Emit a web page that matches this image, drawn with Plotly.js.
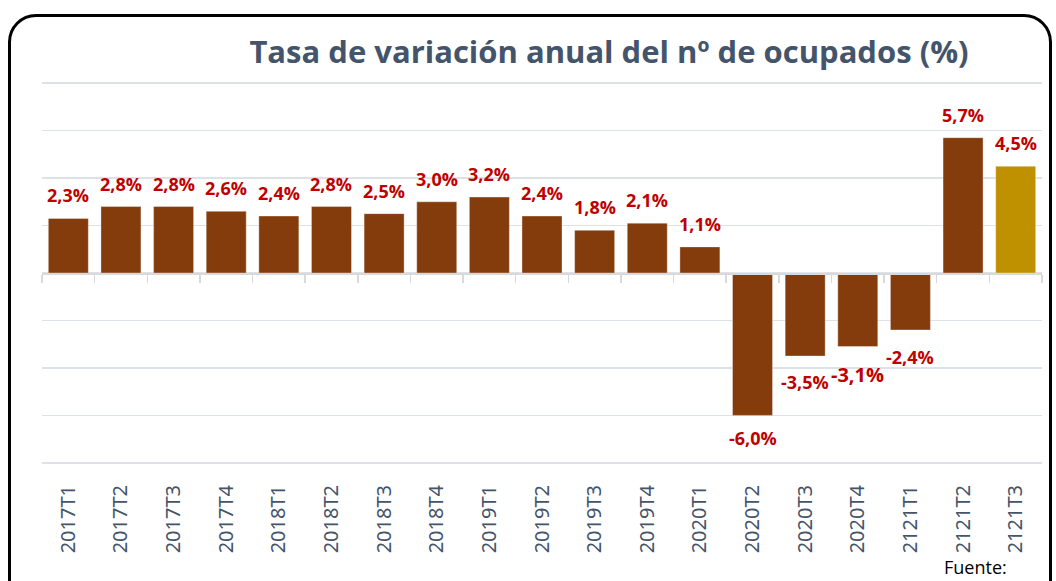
<!DOCTYPE html>
<html>
<head>
<meta charset="utf-8">
<script src="https://cdn.plot.ly/plotly-3.0.1.min.js"></script>
<style>
  html, body { margin:0; padding:0; background:#fff; overflow:hidden; }
  #wrap { position:relative; width:1056px; height:581px; }
  #frame { position:absolute; left:8px; top:14px; width:1044px; height:620px; border:3px solid #000; border-radius:28px; box-sizing:border-box; pointer-events:none; z-index:2; }
  #chart { position:absolute; left:0; top:0; width:1056px; height:581px; }
</style>
</head>
<body>
<div id="wrap">
  <div id="chart"></div>
  <div id="frame"></div>
</div>
<script>
const categories = ["2017T1","2017T2","2017T3","2017T4","2018T1","2018T2","2018T3","2018T4","2019T1","2019T2","2019T3","2019T4","2020T1","2020T2","2020T3","2020T4","2121T1","2121T2","2121T3"];
const values = [2.3, 2.8, 2.8, 2.6, 2.4, 2.8, 2.5, 3.0, 3.2, 2.4, 1.8, 2.1, 1.1, -6.0, -3.5, -3.1, -2.4, 5.7, 4.5];
const labels = ["2,3%","2,8%","2,8%","2,6%","2,4%","2,8%","2,5%","3,0%","3,2%","2,4%","1,8%","2,1%","1,1%","-6,0%","-3,5%","-3,1%","-2,4%","5,7%","4,5%"];
const titleText = "Tasa de variación anual del nº de ocupados (%)";
const sourceText = "Fuente:";

const barColors = categories.map((c, i) => i === categories.length - 1 ? "#BF9000" : "#843C0C");

const trace = {
  type: "bar",
  x: categories,
  y: values,
  marker: { color: barColors, line: { color: "rgba(255,255,255,0.35)", width: 1 } },
  hoverinfo: "skip"
};

// invisible trace on overlay axis for boundary ticks at zero line
const tickTrace = {
  type: "bar",
  x: categories,
  y: values.map(() => 0),
  xaxis: "x2",
  yaxis: "y",
  marker: { color: "rgba(0,0,0,0)" },
  hoverinfo: "skip",
  showlegend: false
};

// label style tweaks (Excel-like placement of a few labels)
const labelYExtra = { "2020T3": 3, "2020T4": 5, "2121T1": 4 };
const labelSize = { "2020T4": 20 };

const dataLabels = categories.map((c, i) => ({
  x: c,
  y: values[i],
  xref: "x",
  yref: "y",
  text: "<b>" + labels[i] + "</b>",
  showarrow: false,
  yanchor: "middle",
  xanchor: "center",
  yshift: (values[i] >= 0 ? 1 : -1) * (23 + (labelYExtra[c] || 0)),
  font: { family: "Open Sans", size: labelSize[c] || 18, color: "#C00000" }
}));

const mT = 76, mB = 111;
const plotW = 1056 - 42 - 14, plotH = 581 - mT - mB;
const yMin = -8.3, yMax = 8.3;

const layout = {
  width: 1056,
  height: 581,
  margin: { l: 42, r: 14, t: mT, b: mB },
  paper_bgcolor: "rgba(0,0,0,0)",
  plot_bgcolor: "rgba(0,0,0,0)",
  showlegend: false,
  bargap: 0.24,
  title: {
    text: "<b>" + titleText + "</b>",
    x: 609 / 1056,
    xanchor: "center",
    y: 1 - 52 / 581,
    yanchor: "middle",
    font: { family: "Open Sans", size: 31, color: "#44546A" }
  },
  xaxis: {
    type: "category",
    showgrid: false,
    zeroline: false,
    showline: false,
    ticks: "",
    tickangle: -90,
    ticklabelstandoff: 10,
    tickfont: { family: "Noto Sans", size: 20, color: "#44546A" },
    fixedrange: true
  },
  xaxis2: {
    type: "category",
    overlaying: "x",
    matches: "x",
    anchor: "free",
    position: 0.5,
    side: "bottom",
    showgrid: false,
    zeroline: false,
    showline: true,
    linecolor: "#D9D9D9",
    linewidth: 1.5,
    ticks: "outside",
    tickson: "boundaries",
    ticklen: 8,
    tickcolor: "#D9D9D9",
    tickwidth: 1.5,
    showticklabels: false
  },
  yaxis: {
    range: [yMin, yMax],
    dtick: 2,
    tick0: 0,
    showticklabels: false,
    showgrid: true,
    gridcolor: "#DDE2E8",
    gridwidth: 1.5,
    zeroline: false,
    showline: false,
    ticks: "",
    fixedrange: true
  },
  annotations: dataLabels.concat([{
    text: sourceText,
    xref: "paper", yref: "paper",
    x: (942 - 42) / plotW,
    xanchor: "left",
    y: (581 - mB - 567) / plotH,
    yanchor: "middle",
    showarrow: false,
    font: { family: "Open Sans", size: 18, color: "#000000" }
  }])
};

Plotly.newPlot("chart", [trace, tickTrace], layout, { displayModeBar: false, staticPlot: true });
</script>
</body>
</html>
